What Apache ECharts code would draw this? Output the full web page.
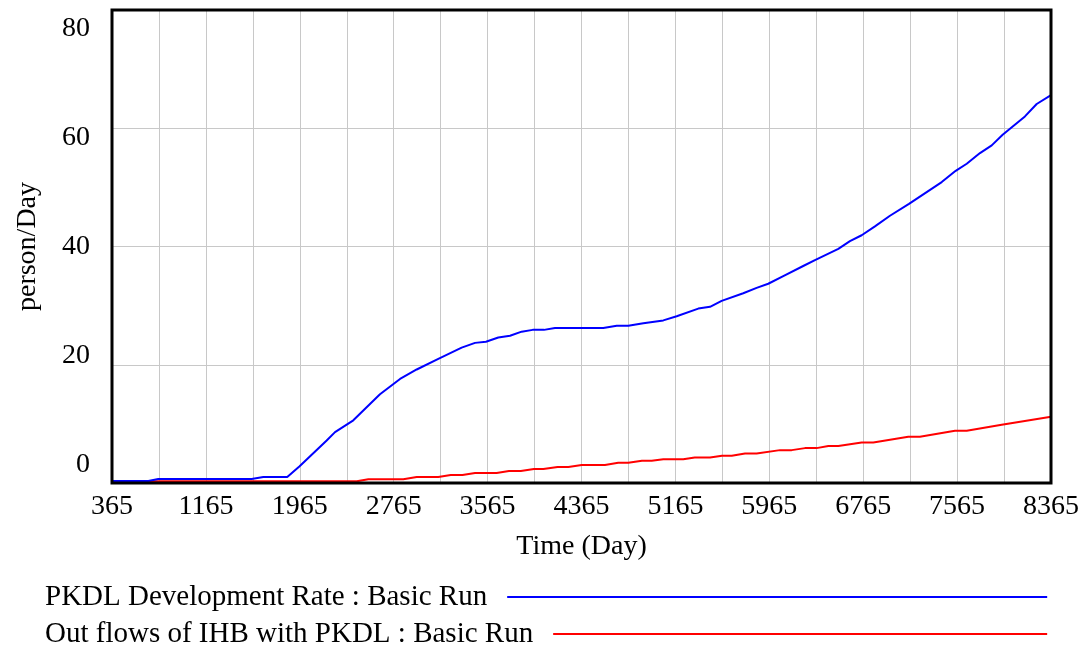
<!DOCTYPE html>
<html>
<head>
<meta charset="utf-8">
<script src="https://cdn.jsdelivr.net/npm/echarts@6/dist/echarts.min.js"></script>
<style>
html,body{margin:0;padding:0;background:#fff;}
#chart{width:1087px;height:649px;}
</style>
</head>
<body>
<div id="chart"></div>
<script>
const xTicksMin = 365, xTicksMax = 8365, xStep = 400;
const yTickLabels = [0, 20, 40, 60, 80];

const blueName = 'PKDL Development Rate : Basic Run';
const blueTime = [365, 674, 759, 1555, 1654, 1858, 1961, 2194, 2265, 2421, 2648, 2819, 2961, 3145, 3344, 3458, 3551, 3656, 3756, 3855, 3949, 4045, 4139, 4551, 4665, 4764, 4892, 5062, 5176, 5360, 5460, 5559, 5743, 5857, 5956, 6084, 6254, 6354, 6553, 6652, 6752, 6865, 6993, 7155, 7434, 7553, 7647, 7760, 7860, 7953, 8143, 8243, 8365];
const blueValue = [0.34, 0.34, 0.67, 0.67, 1.01, 1.01, 2.8, 7.2, 8.6, 10.6, 15.0, 17.6, 19.2, 21.0, 22.9, 23.7, 23.9, 24.6, 24.9, 25.6, 25.9, 25.9, 26.2, 26.2, 26.6, 26.6, 27.0, 27.5, 28.2, 29.5, 29.8, 30.8, 32.1, 33.0, 33.7, 35.0, 36.7, 37.7, 39.6, 40.9, 41.9, 43.4, 45.2, 47.2, 50.9, 52.8, 54.0, 55.8, 57.1, 58.9, 62.0, 64.1, 65.6];

const redName = 'Out flows of IHB with PKDL : Basic Run';
const redTime = [365, 2450, 2549, 2847, 2961, 3145, 3251, 3351, 3458, 3642, 3747, 3848, 3960, 4040, 4161, 4253, 4367, 4565, 4678, 4764, 4880, 4963, 5062, 5232, 5330, 5460, 5562, 5645, 5758, 5857, 6056, 6156, 6269, 6368, 6468, 6553, 6752, 6851, 7149, 7248, 7547, 7647, 7945, 8365];
const redValue = [0.3, 0.3, 0.62, 0.62, 1.0, 1.0, 1.35, 1.35, 1.7, 1.7, 2.04, 2.04, 2.38, 2.38, 2.72, 2.72, 3.05, 3.05, 3.42, 3.42, 3.76, 3.76, 4.0, 4.0, 4.3, 4.3, 4.6, 4.6, 4.98, 4.98, 5.56, 5.56, 5.9, 5.9, 6.24, 6.24, 6.86, 6.86, 7.82, 7.82, 8.83, 8.83, 9.85, 11.2];

const FONT = "'Liberation Serif', 'Times New Roman', serif";
const chart = echarts.init(document.getElementById('chart'), null, {renderer: 'canvas'});

const zip = (t, v) => t.map((x, i) => [x, v[i]]);

chart.setOption({
  animation: false,
  backgroundColor: '#ffffff',
  grid: {left: 112, right: 36, top: 10, bottom: 166, show: true, borderColor: '#000', borderWidth: 3, backgroundColor: 'transparent', z: 5},
  xAxis: {
    type: 'value', min: xTicksMin, max: xTicksMax, interval: xStep,
    name: 'Time (Day)', nameLocation: 'middle', nameGap: 50,
    nameTextStyle: {fontFamily: FONT, fontSize: 28, color: '#000'},
    axisLine: {show: false}, axisTick: {show: false},
    splitLine: {show: true, lineStyle: {color: '#c8c8c8', width: 1}},
    axisLabel: {
      fontFamily: FONT, fontSize: 28, color: '#000', margin: 10,
      showMinLabel: true, showMaxLabel: true,
      formatter: v => (Math.round(v - xTicksMin) % (2 * xStep) === 0 ? String(v) : '')
    }
  },
  yAxis: [
    {
      type: 'value', min: 0, max: 80, interval: 20,
      name: 'person/Day', nameLocation: 'middle', nameGap: 70,
      nameTextStyle: {fontFamily: FONT, fontSize: 28, color: '#000'},
      axisLine: {show: false}, axisTick: {show: false}, axisLabel: {show: false},
      splitLine: {show: true, lineStyle: {color: '#c8c8c8', width: 1}}
    },
    {
      type: 'value', position: 'left', min: -3.3, max: 83.49,
      axisLine: {show: false}, axisTick: {show: false}, splitLine: {show: false},
      axisLabel: {fontFamily: FONT, fontSize: 28, color: '#000', margin: 22, customValues: yTickLabels}
    }
  ],
  legend: [
    {
      left: 40, top: 577, align: 'right', icon: 'rect', itemWidth: 540, itemHeight: 2,
      data: [blueName], selectedMode: false,
      textStyle: {fontFamily: FONT, fontSize: 29, color: '#000', lineHeight: 30, padding: [0, 15, 0, 0]}
    },
    {
      left: 40, top: 614, align: 'right', icon: 'rect', itemWidth: 494, itemHeight: 2,
      data: [redName], selectedMode: false,
      textStyle: {fontFamily: FONT, fontSize: 29, color: '#000', lineHeight: 30, padding: [0, 15, 0, 0]}
    }
  ],
  series: [
    {name: redName, type: 'line', yAxisIndex: 0, data: zip(redTime, redValue), showSymbol: false, symbol: 'none',
     lineStyle: {color: '#ff0000', width: 2}, itemStyle: {color: '#ff0000'}, z: 2},
    {name: blueName, type: 'line', yAxisIndex: 0, data: zip(blueTime, blueValue), showSymbol: false, symbol: 'none',
     lineStyle: {color: '#0000ff', width: 2}, itemStyle: {color: '#0000ff'}, z: 3}
  ]
});
</script>
</body>
</html>
